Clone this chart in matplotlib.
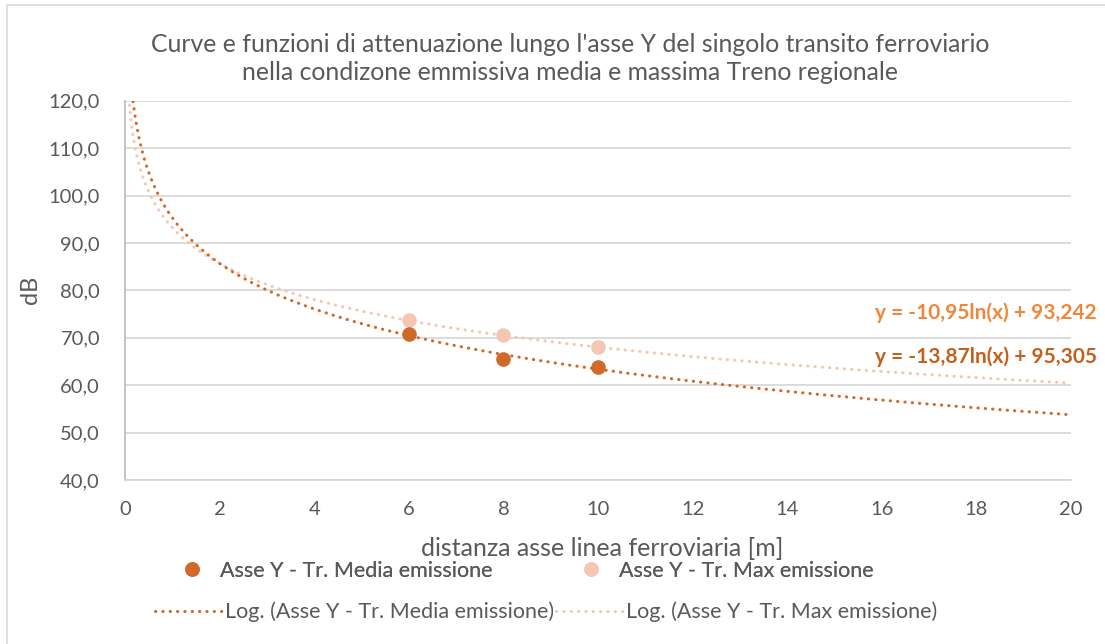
import numpy as np
import matplotlib
matplotlib.use("Agg")
import matplotlib.pyplot as plt
from matplotlib.lines import Line2D
from matplotlib.patches import Rectangle
from matplotlib.ticker import FuncFormatter

plt.rcParams['font.family'] = ['Lato', 'DejaVu Sans']

# data
distanza = [6, 8, 10]
media_db = [70.8, 65.5, 63.9]
max_db = [73.7, 70.6, 68.1]

# logarithmic trendlines as printed on the chart: y = a*ln(x) + b
coef_media = [-13.87, 95.305]
coef_max = [-10.95, 93.242]
eq_media = "y = -13,87ln(x) + 95,305"
eq_max = "y = -10,95ln(x) + 93,242"

c_media = '#D0692A'
c_max = '#F5C7B2'
c_eq_max = '#F0863A'
c_eq_media = '#C45F1C'
grey_txt = '#595959'
grid_c = '#D9D9D9'

fig = plt.figure(figsize=(11.05, 6.44), dpi=100)
fig.patches.append(Rectangle((7 / 1105, -0.1), 1.2, 1 - 5 / 644 + 0.1,
                             transform=fig.transFigure, fill=False,
                             edgecolor='#D9D9D9', lw=1.2))

ax = fig.add_axes([125 / 1105, 1 - 480 / 644, (1071 - 125) / 1105, (480 - 100.7) / 644])

xs = np.linspace(0.02, 20, 800)
dots = (0, (0.1, 2.3))
ax.plot(xs, coef_media[0] * np.log(xs) + coef_media[1], color=c_media, lw=2.2,
        linestyle=dots, dash_capstyle='round', zorder=3)
ax.plot(xs, coef_max[0] * np.log(xs) + coef_max[1], color=c_max, lw=2.2,
        linestyle=dots, dash_capstyle='round', zorder=2)
ax.plot(distanza, media_db, 'o', color=c_media, ms=9.5, zorder=5)
ax.plot(distanza, max_db, 'o', color=c_max, ms=9.5, zorder=4)

ax.set_xlim(0, 20)
ax.set_ylim(40, 120)
ax.set_xticks(range(0, 21, 2))
ax.set_yticks(range(40, 121, 10))
ax.yaxis.set_major_formatter(FuncFormatter(lambda v, p: f"{v:.1f}".replace('.', ',')))
ax.tick_params(length=0, labelsize=14.5, colors=grey_txt)
ax.tick_params(axis='y', pad=18)
ax.tick_params(axis='x', pad=15)
ax.grid(axis='y', color=grid_c, lw=1.3)
ax.set_axisbelow(True)
for s in ['top', 'right']:
    ax.spines[s].set_visible(False)
ax.spines['left'].set_color('#BFBFBF')
ax.spines['bottom'].set_color(grid_c)
ax.spines['left'].set_linewidth(1.3)
ax.spines['bottom'].set_linewidth(1.3)

fig.text(570 / 1105, 1 - 44 / 644,
         "Curve e funzioni di attenuazione lungo l'asse Y del singolo transito ferroviario",
         ha='center', va='center', fontsize=17.8, color=grey_txt)
fig.text(570 / 1105, 1 - 73 / 644,
         "nella condizone emmissiva media e massima Treno regionale",
         ha='center', va='center', fontsize=17.8, color=grey_txt)
fig.text(602 / 1105, 1 - 549 / 644, "distanza asse linea ferroviaria [m]",
         ha='center', va='center', fontsize=18, color=grey_txt)
fig.text(30 / 1105, 1 - 290 / 644, "dB", ha='center', va='center', rotation=90,
         fontsize=17, color=grey_txt)

fig.text(1097 / 1105, 1 - 313 / 644, eq_max, ha='right', va='center',
         fontsize=15, fontweight='bold', color=c_eq_max)
fig.text(1097 / 1105, 1 - 357 / 644, eq_media, ha='right', va='center',
         fontsize=15, fontweight='bold', color=c_eq_media)

handles1 = [Line2D([], [], ls='none', marker='o', ms=9.5, color=c_media),
            Line2D([], [], ls='none', marker='o', ms=9.5, color=c_max)]
labels1 = ["Asse Y - Tr. Media emissione", "Asse Y - Tr. Max emissione"]
leg1 = fig.legend(handles1, labels1, ncol=2, loc='center left', bbox_to_anchor=(170 / 1105, 1 - 571 / 644),
                  frameon=False, fontsize=15.5, labelcolor=grey_txt, columnspacing=3.6,
                  handletextpad=0.3, borderpad=0, borderaxespad=0)
handles2 = [Line2D([], [], color=c_media, lw=2.2, ls=dots, dash_capstyle='round'),
            Line2D([], [], color=c_max, lw=2.2, ls=dots, dash_capstyle='round')]
labels2 = ["Log. (Asse Y - Tr. Media emissione)", "Log. (Asse Y - Tr. Max emissione)"]
fig.legend(handles2, labels2, ncol=2, loc='center left', bbox_to_anchor=(155 / 1105, 1 - 612 / 644),
           frameon=False, fontsize=15.5, labelcolor=grey_txt, columnspacing=0.1,
           handlelength=3.1, handletextpad=0.15, borderpad=0, borderaxespad=0)
fig.add_artist(leg1)

fig.savefig("out.png", dpi=100)
